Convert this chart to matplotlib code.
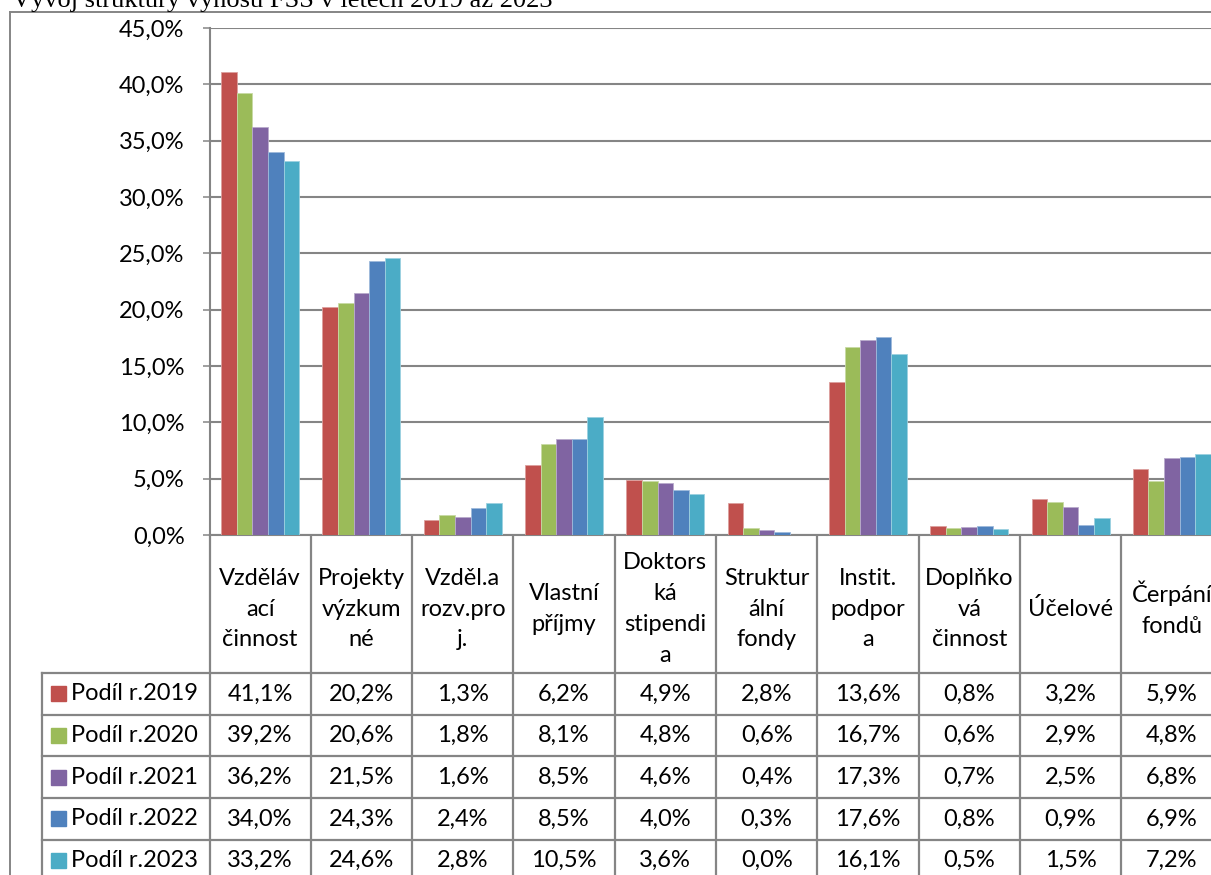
import numpy as np
import matplotlib.pyplot as plt

categories = ["Vzděláv\nací\nčinnost", "Projekty\nvýzkum\nné", "Vzděl.a\nrozv.pro\nj.",
              "Vlastní\npříjmy", "Doktors\nká\nstipendi\na", "Struktur\nální\nfondy",
              "Instit.\npodpor\na", "Doplňko\nvá\nčinnost", "Účelové", "Čerpání\nfondů"]
series_names = ["Podíl r.2019", "Podíl r.2020", "Podíl r.2021", "Podíl r.2022", "Podíl r.2023"]
share_2019 = [41.1, 20.2, 1.3, 6.2, 4.9, 2.8, 13.6, 0.8, 3.2, 5.9]
share_2020 = [39.2, 20.6, 1.8, 8.1, 4.8, 0.6, 16.7, 0.6, 2.9, 4.8]
share_2021 = [36.2, 21.5, 1.6, 8.5, 4.6, 0.4, 17.3, 0.7, 2.5, 6.8]
share_2022 = [34.0, 24.3, 2.4, 8.5, 4.0, 0.3, 17.6, 0.8, 0.9, 6.9]
share_2023 = [33.2, 24.6, 2.8, 10.5, 3.6, 0.0, 16.1, 0.5, 1.5, 7.2]
series_values = [share_2019, share_2020, share_2021, share_2022, share_2023]
colors = ["#C0504D", "#9BBB59", "#8064A2", "#4F81BD", "#4BACC6"]
title = "Vývoj struktury výnosů FSS v letech 2019 až 2023"

W, H = 1211, 875
GRAY = "#858585"
FONT = "Lato"
FS = 17


def fmt(v):
    return f"{v:.1f}%".replace(".", ",")


def lighten(c, f=0.45):
    rgb = np.array(plt.matplotlib.colors.to_rgb(c))
    return tuple(rgb + (1 - rgb) * f)


fig = plt.figure(figsize=(W / 100, H / 100), dpi=100)

# pixel layout (top-left origin)
ax_left, ax_right, ax_top, ax_bottom = 209.5, 1222.5, 28, 535
ax = fig.add_axes([ax_left / W, (H - ax_bottom) / H,
                   (ax_right - ax_left) / W, (ax_bottom - ax_top) / H])

n = len(categories)
x = np.arange(n)
bw = 0.154
for i, (vals, col) in enumerate(zip(series_values, colors)):
    ax.bar(x + (i - 2) * bw, vals, bw, color=col, edgecolor=lighten(col),
           linewidth=0.6, zorder=3)

ax.set_xlim(-0.5, n - 0.5)
ax.set_ylim(0, 45)
ax.set_yticks(np.arange(0, 46, 5))
ax.set_yticklabels([fmt(v) for v in np.arange(0, 46, 5)], fontsize=FS, family=FONT)
ax.yaxis.grid(True, color=GRAY, linewidth=1.5, zorder=0)
ax.set_xticks([])
ax.tick_params(axis="y", length=5, width=1.1, color=GRAY, pad=13)
for s in ["top", "right"]:
    ax.spines[s].set_visible(False)
for s in ["left", "bottom"]:
    ax.spines[s].set_color(GRAY)
    ax.spines[s].set_linewidth(1.5)

# data table under the chart, drawn in figure pixels
tab = fig.add_axes([0, 0, 1, 1], zorder=-1)
tab.set_xlim(0, W)
tab.set_ylim(H, 0)
tab.axis("off")

col_edges = [ax_left + (ax_right - ax_left) * k / n for k in range(n + 1)]
leg_left = 42
header_bottom = 673
row_h = 41.7
row_tops = [header_bottom + r * row_h for r in range(len(series_names) + 1)]

lw = 1.6
for xe in col_edges:
    tab.plot([xe, xe], [ax_bottom, H + 5], color=GRAY, lw=lw)
tab.plot([leg_left, leg_left], [header_bottom, H + 5], color=GRAY, lw=lw)
for yt in row_tops:
    tab.plot([leg_left, W + 20], [yt, yt], color=GRAY, lw=lw)

for k, lab in enumerate(categories):
    cx = (col_edges[k] + col_edges[k + 1]) / 2
    tab.text(cx, (ax_bottom + header_bottom) / 2 + 5, lab, ha="center", va="center",
             fontsize=FS, family=FONT, linespacing=1.57, multialignment="center")

for r, (name, vals, col) in enumerate(zip(series_names, series_values, colors)):
    cy = row_tops[r] + row_h / 2
    tab.add_patch(plt.Rectangle((51, cy - 7.5), 15, 15, color=col))
    tab.text(71, cy, name, ha="left", va="center", fontsize=FS, family=FONT)
    for k, v in enumerate(vals):
        cx = (col_edges[k] + col_edges[k + 1]) / 2
        tab.text(cx, cy, fmt(v), ha="center", va="center", fontsize=FS, family=FONT)

# outer chart border and cropped title
tab.plot([10, 10], [12, H + 5], color=GRAY, lw=1.4)
tab.plot([10, W + 5], [12, 12], color=GRAY, lw=1.4)
tab.text(12, 7, title, ha="left", va="baseline", fontsize=19,
         family="Liberation Serif")

fig.savefig("out.png", dpi=100)
